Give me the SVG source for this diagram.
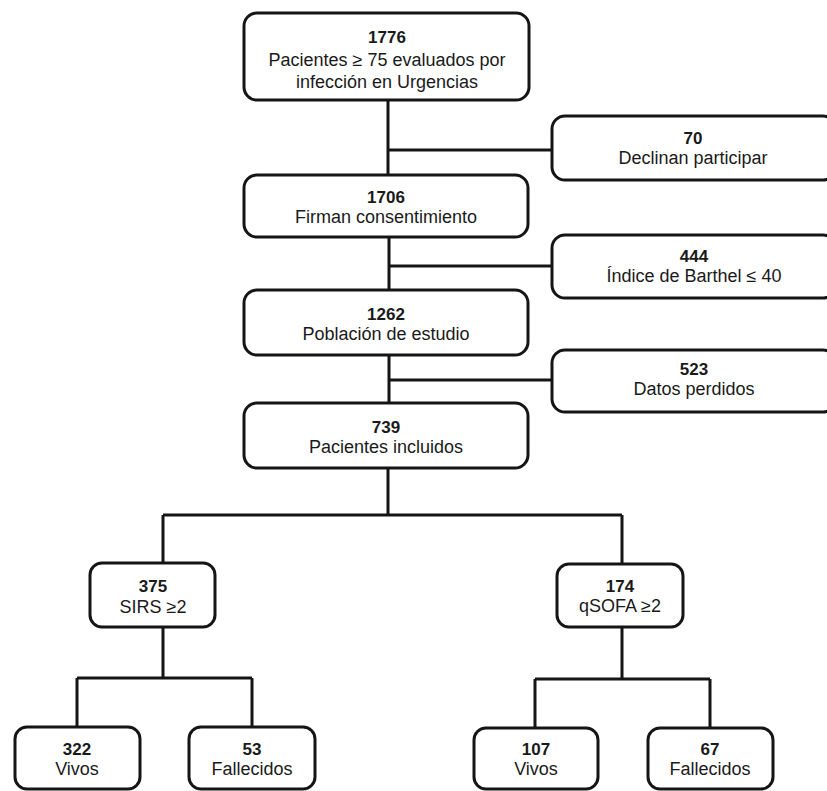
<svg xmlns="http://www.w3.org/2000/svg" width="827" height="791" viewBox="0 0 827 791">
<style>
.box{fill:#fff;stroke:#151515;stroke-width:3}
.ln{fill:none;stroke:#151515;stroke-width:3}
text{font-family:"Liberation Sans",Arial,sans-serif;font-size:18px;fill:#1a1a1a;text-anchor:middle}
.b{font-weight:bold;font-size:17px}
</style>
<rect width="827" height="791" fill="#fff"/>
<g id="connectors">
<path class="ln" d="M388,100 V175 M388,150 H552"/>
<path class="ln" d="M389,237 V290 M389,266 H552"/>
<path class="ln" d="M389,355 V403 M389,380 H552"/>
<path class="ln" d="M388,468 V515 M163,515 H622 M163,515 V563 M622,515 V564"/>
<path class="ln" d="M163,627 V678 M77,678 H252 M77,678 V727 M252,678 V727"/>
<path class="ln" d="M622,627 V679 M535,679 H710 M535,679 V728 M710,679 V728"/>
</g>
<g id="n1776"><rect class="box" x="244" y="13" width="285" height="87" rx="13"/><text class="b" x="387" y="43">1776</text><text x="387" y="66">Pacientes ≥ 75 evaluados por</text><text x="387" y="88">infección en Urgencias</text></g>
<g id="n70"><rect class="box" x="552" y="116" width="284" height="64" rx="13"/><text class="b" x="693" y="144">70</text><text x="693" y="164">Declinan participar</text></g>
<g id="n1706"><rect class="box" x="244" y="175" width="284" height="62" rx="13"/><text class="b" x="386" y="203">1706</text><text x="386" y="223">Firman consentimiento</text></g>
<g id="n444"><rect class="box" x="552" y="235" width="284" height="63" rx="13"/><text class="b" x="694" y="262">444</text><text x="694" y="282">Índice de Barthel ≤ 40</text></g>
<g id="n1262"><rect class="box" x="244" y="290" width="284" height="65" rx="13"/><text class="b" x="386" y="320">1262</text><text x="386" y="340">Población de estudio</text></g>
<g id="n523"><rect class="box" x="552" y="350" width="284" height="62" rx="13"/><text class="b" x="694" y="375">523</text><text x="694" y="395">Datos perdidos</text></g>
<g id="n739"><rect class="box" x="244" y="403" width="284" height="65" rx="13"/><text class="b" x="386" y="433">739</text><text x="386" y="453">Pacientes incluidos</text></g>
<g id="n375"><rect class="box" x="90" y="563" width="125" height="64" rx="12"/><text class="b" x="153" y="592">375</text><text x="153" y="613">SIRS ≥2</text></g>
<g id="n174"><rect class="box" x="557" y="564" width="126" height="63" rx="12"/><text class="b" x="620" y="592">174</text><text x="620" y="612">qSOFA ≥2</text></g>
<g id="n322"><rect class="box" x="15" y="727" width="125" height="62" rx="12"/><text class="b" x="77" y="755">322</text><text x="77" y="775">Vivos</text></g>
<g id="n53"><rect class="box" x="189" y="727" width="126" height="62" rx="12"/><text class="b" x="252" y="755">53</text><text x="252" y="775">Fallecidos</text></g>
<g id="n107"><rect class="box" x="474" y="728" width="124" height="61" rx="12"/><text class="b" x="536" y="755">107</text><text x="536" y="775">Vivos</text></g>
<g id="n67"><rect class="box" x="648" y="728" width="125" height="61" rx="12"/><text class="b" x="710" y="755">67</text><text x="710" y="775">Fallecidos</text></g>
</svg>
